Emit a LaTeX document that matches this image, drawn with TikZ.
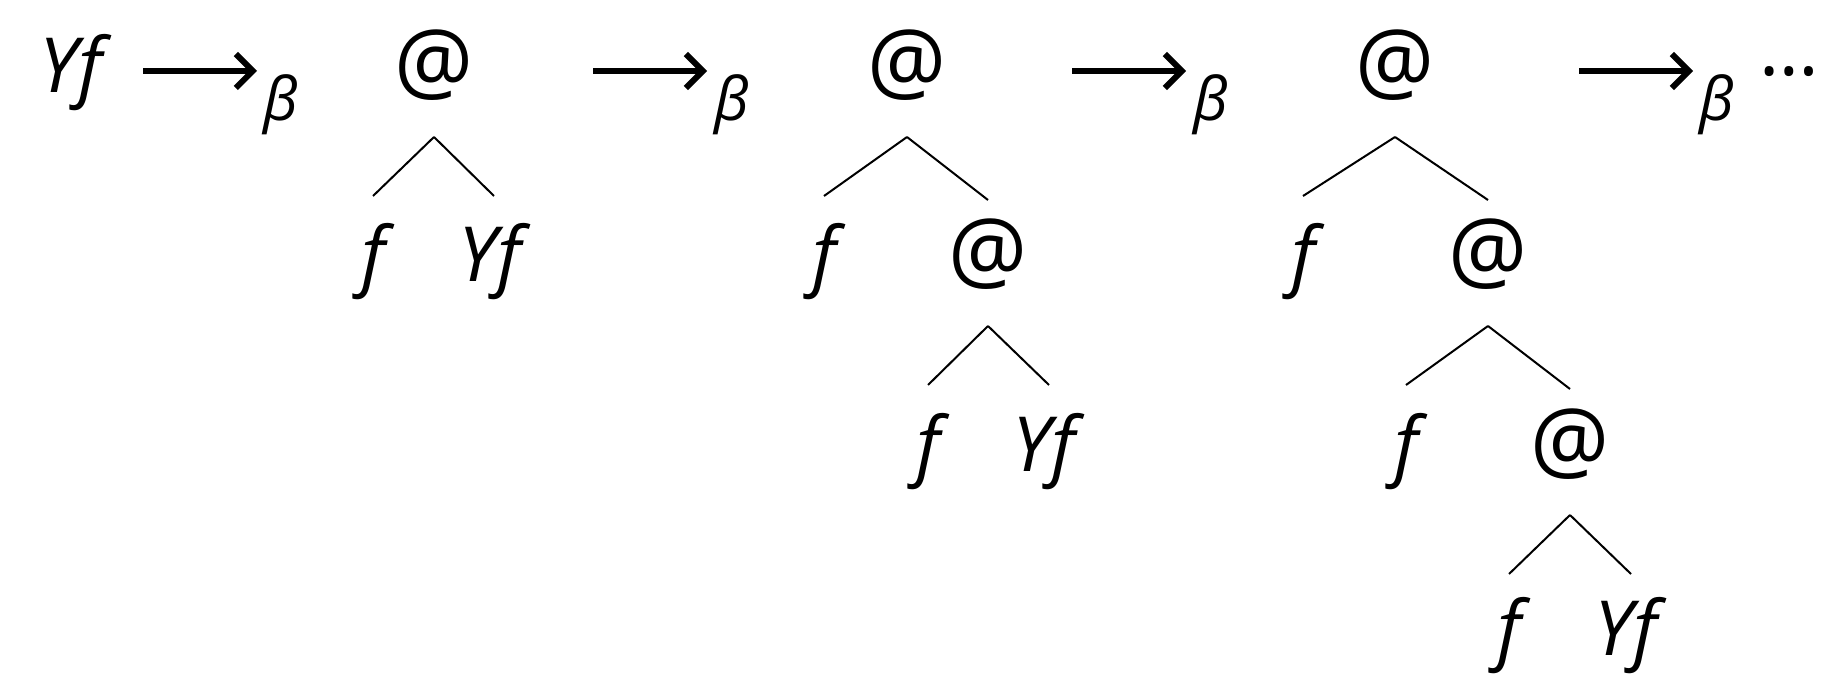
\documentclass[tikz,border=0pt]{standalone}
\usepackage{fontspec}
\setmainfont{Open Sans}
\usetikzlibrary{arrows.meta}
\begin{document}
\begin{tikzpicture}[x=1pt,y=-1pt,
  term/.style={anchor=base, inner sep=0pt, font=\fontsize{88}{100}\selectfont},
  itterm/.style={anchor=base, inner sep=0pt, font=\fontsize{76}{90}\selectfont\itshape},
  subb/.style={anchor=base, inner sep=0pt, font=\fontsize{60}{70}\selectfont\itshape},
  branch/.style={line width=2pt},
  redarrow/.style={line width=6pt, -{Straight Barb[length=17pt,width=34pt]}}]
\useasboundingbox (0,0) rectangle (1821,676);

% start term and reduction arrows
\node[itterm] (start) at (71,93) {Yf};
\coordinate (a1s) at (143,71);  \coordinate (a1e) at (257,71);
\coordinate (a2s) at (593,71);  \coordinate (a2e) at (707,71);
\coordinate (a3s) at (1072,71); \coordinate (a3e) at (1186,71);
\coordinate (a4s) at (1579,71); \coordinate (a4e) at (1693,71);
\draw[redarrow] (a1s) -- (a1e);
\draw[redarrow] (a2s) -- (a2e);
\draw[redarrow] (a3s) -- (a3e);
\draw[redarrow] (a4s) -- (a4e);
\node[subb] (b1) at (281,121) {β};
\node[subb] (b2) at (732,121) {β};
\node[subb] (b3) at (1211,121) {β};
\node[subb] (b4) at (1717,121) {β};
\node[itterm, font=\fontsize{76}{90}\selectfont] (dots) at (1789,76) {…};

% tree 1
\node[term] (t1r) at (434,93) {@};
\node[itterm] (t1f) at (373,282) {f};
\node[itterm] (t1y) at (490,282) {Yf};
\draw[branch] ([yshift=-44pt]t1r.base) -- ([yshift=86pt]t1f.base);
\draw[branch] ([xshift=4pt,yshift=86pt]t1y.base) -- ([yshift=-44pt]t1r.base);

% tree 2
\node[term] (t2r) at (907,93) {@};
\node[itterm] (t2f) at (824,282) {f};
\node[term] (t2a) at (988,282) {@};
\node[itterm] (t2ff) at (928,471) {f};
\node[itterm] (t2y) at (1044,471) {Yf};
\draw[branch] ([yshift=-44pt]t2r.base) -- ([yshift=86pt]t2f.base);
\draw[branch] ([yshift=-44pt]t2r.base) -- ([yshift=82pt]t2a.base);
\draw[branch] ([yshift=-44pt]t2a.base) -- ([yshift=86pt]t2ff.base);
\draw[branch] ([yshift=-44pt]t2a.base) -- ([xshift=5pt,yshift=86pt]t2y.base);

% tree 3
\node[term] (t3r) at (1395,93) {@};
\node[itterm] (t3f) at (1303,282) {f};
\node[term] (t3a) at (1488,282) {@};
\node[itterm] (t3ff) at (1406,471) {f};
\node[term] (t3b) at (1570,471) {@};
\node[itterm] (t3fff) at (1509,655) {f};
\node[itterm] (t3y) at (1626,655) {Yf};
\draw[branch] ([yshift=-44pt]t3r.base) -- ([yshift=86pt]t3f.base);
\draw[branch] ([yshift=-44pt]t3r.base) -- ([yshift=82pt]t3a.base);
\draw[branch] ([yshift=-44pt]t3a.base) -- ([yshift=86pt]t3ff.base);
\draw[branch] ([yshift=-44pt]t3a.base) -- ([yshift=82pt]t3b.base);
\draw[branch] ([yshift=-44pt]t3b.base) -- ([yshift=81pt]t3fff.base);
\draw[branch] ([yshift=-44pt]t3b.base) -- ([xshift=5pt,yshift=81pt]t3y.base);
\end{tikzpicture}
\end{document}
